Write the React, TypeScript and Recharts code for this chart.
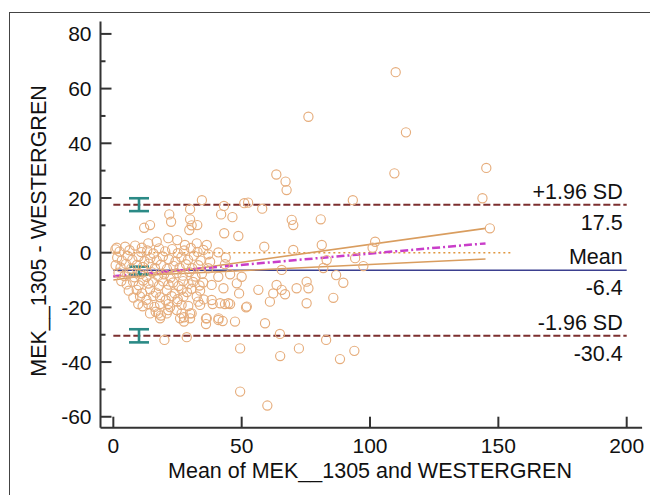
import React from 'react';
import { ComposedChart, Scatter, XAxis, YAxis, ReferenceLine, ErrorBar, Label } from 'recharts';

const FONT = '"Liberation Sans", Arial, Helvetica, sans-serif';

// axes
const xTicks = [0, 50, 100, 150, 200];
const yTicks = [-60, -50, -40, -30, -20, -10, 0, 10, 20, 30, 40, 50, 60, 70, 80];
const xDomain = [-5, 206];
const yDomain = [-64, 84.5];

// Bland-Altman results
const upperLimit = 17.5;
const meanDiff = -6.4;
const lowerLimit = -30.4;
const limitSpan = [0, 200];

// 95% CI bars drawn at x = 10
const ciBars = [
  { x: 10, y: upperLimit, err: [2.3, 2.4] },
  { x: 10, y: meanDiff, err: [1.5, 1.3] },
  { x: 10, y: lowerLimit, err: [2.4, 2.4] },
];

// regression of differences and its limits, line of equality
const regUpper = [[0, -10], [145, 8.9]];
const regLine = [[0, -8.6], [145, 3.4]];
const regLower = [[0, -8.8], [145, -2.3]];
const equality = [[0, 0], [155, 0]];

// (mean, difference) pairs
const points: [number, number][] = [
  // outliers and upper part
  [110.0, 66.0], [76.0, 49.7], [114.0, 44.0], [63.5, 28.6], [67.1, 26.0], [67.5, 22.9], [109.5, 29.0], [145.3, 31.0],
  [34.5, 19.2], [21.8, 14.0], [29.9, 15.9], [43.1, 17.1], [42.0, 14.0], [46.4, 13.0], [51.0, 18.1], [52.5, 18.3],
  [58.0, 16.1], [93.3, 19.2], [143.8, 19.9],
  [22.5, 11.3], [14.3, 10.1], [12.0, 9.1], [29.9, 12.2], [30.5, 10.0], [29.6, 8.3], [32.7, 10.1], [80.8, 12.2],
  [69.5, 12.0], [70.1, 10.1], [146.7, 8.9],
  [21.4, 5.3], [24.9, 4.6], [13.6, 3.4], [16.9, 4.0], [27.9, 2.8], [32.5, 3.4], [43.2, 7.1], [48.7, 6.1],
  [58.8, 2.2], [36.4, 2.8], [81.2, 2.8], [102.0, 4.0], [101.0, 1.8], [70.1, 1.0], [94.2, -2.0], [97.4, -4.9],
  [83.1, -2.7], [86.8, -8.2], [89.6, -11.0], [81.8, -5.6],
  // middle band 36-80
  [65.6, -6.3], [40.9, -8.8], [45.5, -7.9], [50.0, -8.8], [48.1, -11.2], [38.3, -11.8], [42.9, -13.0], [49.0, -14.9],
  [56.5, -13.6], [63.6, -11.8], [65.6, -13.6], [62.3, -14.9], [66.9, -15.2], [71.4, -13.0], [75.3, -10.6], [76.0, -13.0],
  [61.0, -17.9], [75.3, -18.5], [38.3, -17.3], [41.6, -18.5], [44.8, -18.5], [52.0, -19.7], [36.4, -24.0], [40.9, -24.6],
  [47.4, -25.2], [59.1, -25.8], [43.5, -4.2], [37.0, -5.7], [37.7, -3.3], [43.8, -1.8], [37.0, -0.6], [40.9, 0.1],
  [38.7, -18.8], [43.5, -18.8], [45.5, -18.8], [51.7, -20.0], [85.7, -16.5],
  [36.1, -26.1], [41.0, -24.0], [42.6, -25.0],
  // lower part
  [49.4, -35.0], [65.0, -37.8], [72.3, -35.0], [82.9, -31.9], [88.3, -38.9], [93.9, -35.9], [49.4, -50.8], [60.0, -55.9],
  [19.9, -31.9], [28.6, -30.9], [64.9, -29.7],
  // dense cluster, low means
  [0.8, 1.2], [2.4, 0.4], [4.6, 2.2], [6.3, 0.9], [8.5, 2.6], [10.9, 0.2], [11.1, 1.8], [13.2, 0.8], [15.6, -0.3],
  [17.8, 1.6], [20.2, 0.5], [22.9, 1.3], [25.1, -0.2], [27.6, 0.8], [30.2, 1.7], [32.8, 0.3], [35.1, 1.0], [1.3, 1.8],
  [1.5, -1.8], [3.3, -2.9], [5.6, -1.2], [7.4, -2.6], [9.8, -1.5], [12.1, -3.1], [14.4, -2.0], [16.9, -2.8],
  [19.3, -1.4], [21.6, -2.4], [24.2, -3.2], [26.5, -1.7], [29.1, -2.6], [31.4, -1.1], [34.0, -2.9],
  [0.9, -4.6], [2.8, -5.4], [4.9, -4.1], [7.0, -5.8], [9.2, -4.5], [11.5, -5.2], [13.8, -4.0], [16.2, -5.6],
  [18.5, -4.4], [20.9, -5.9], [23.4, -4.8], [25.8, -5.5], [28.3, -4.2], [30.7, -5.7], [33.1, -4.6],
  [2.0, -7.3], [4.3, -8.6], [6.1, -7.6], [8.2, -9.0], [10.6, -7.8], [12.9, -8.8], [15.1, -7.2], [17.4, -8.5],
  [19.8, -7.9], [22.3, -9.1], [24.7, -7.5], [27.0, -8.4], [29.6, -7.1], [32.0, -8.7], [34.5, -7.7],
  [3.1, -10.4], [5.2, -11.6], [7.7, -10.6], [9.9, -11.9], [11.6, -10.2], [13.7, -11.3], [15.5, -10.8], [17.8, -12.1],
  [19.4, -10.5], [21.5, -11.7], [23.3, -10.9], [25.4, -12.2], [27.2, -10.4], [29.3, -11.5], [31.1, -10.7], [33.6, -12.0],
  [35.0, -10.9],
  [6.0, -13.9], [9.1, -13.6], [11.2, -14.8], [14.3, -13.4], [16.6, -14.6], [20.8, -13.7], [23.9, -14.9], [26.6, -13.5],
  [28.7, -14.4], [30.5, -13.2], [33.8, -13.9],
  [7.8, -16.4], [10.4, -16.0], [12.9, -17.2], [15.6, -15.8], [18.2, -16.3], [20.4, -17.4], [22.7, -15.9], [25.1, -17.0],
  [27.3, -16.1], [32.5, -16.0], [35.2, -17.1],
  [9.7, -18.8], [11.4, -19.6], [13.6, -18.8], [16.0, -19.8], [18.2, -18.8], [21.4, -18.8], [22.1, -19.9], [24.9, -17.9],
  [26.6, -19.1], [29.2, -19.5], [33.1, -17.9], [33.8, -19.1],
  [14.3, -22.2], [16.5, -21.6], [17.5, -22.2], [18.5, -23.0], [20.8, -22.2], [21.4, -21.0], [24.7, -21.0], [26.6, -22.2],
  [29.9, -22.2], [30.5, -22.2], [27.5, -23.6], [27.5, -25.2], [18.2, -24.0], [26.0, -24.0], [29.9, -24.0], [36.1, -24.0],
];

const pointData = points.map(([x, y]) => ({ x, y }));
const seg = (pts: number[][]) => pts.map(([x, y]) => ({ x, y }));

const AXIS = '#333';
const TEXT = '#111';
const FS = 21;

const YTick = (props: any) => {
  const { x, y, payload } = props;
  const major = payload.value % 20 === 0;
  return (
    <g>
      <line x1={x} x2={x + (major ? 11 : 5)} y1={y} y2={y} stroke={AXIS} strokeWidth={2} />
      {major && (
        <text x={x - 9} y={y} dy="0.36em" textAnchor="end" fontSize={FS} fill={TEXT} fontFamily={FONT}>
          {payload.value}
        </text>
      )}
    </g>
  );
};

const XTick = (props: any) => {
  const { x, y, payload } = props;
  return (
    <g>
      <line x1={x} x2={x} y1={y} y2={y - 11} stroke={AXIS} strokeWidth={2} />
      <text x={x} y={y + 17.5} dy="0.36em" textAnchor="middle" fontSize={FS} fill={TEXT} fontFamily={FONT}>
        {payload.value}
      </text>
    </g>
  );
};

const Ring = (props: any) => (
  <circle cx={props.cx} cy={props.cy} r={4.6} fill="none" stroke="#e6ad7c" strokeWidth={1.15} />
);

const limitLabel = (top: string, bottom: string) => (props: any) => {
  const vb = props.viewBox;
  const right = vb.x + vb.width - 4;
  return (
    <g fontFamily={FONT} fontSize={21.5} fill={TEXT}>
      <text x={right} y={vb.y - 14} dy="0.36em" textAnchor="end">{top}</text>
      <text x={right} y={vb.y + 17} dy="0.36em" textAnchor="end">{bottom}</text>
    </g>
  );
};

export default function App() {
  return (
    <div style={{ position: 'absolute', left: 0, top: 0, width: 650, height: 495, overflow: 'hidden', background: '#fff', fontFamily: FONT }}>
      <div style={{ position: 'absolute', left: 9, top: 12, width: 700, height: 600, border: '1px solid #444' }} />
      <div style={{ position: 'absolute', left: 0, top: 0 }}>
        <ComposedChart width={650} height={495} margin={{ top: 21.6, right: 7.9, bottom: 27.3, left: 40.5 }}>
          <XAxis
            type="number"
            dataKey="x"
            domain={xDomain}
            allowDataOverflow
            ticks={xTicks}
            tick={<XTick />}
            tickLine={false}
            tickSize={0}
            tickMargin={0}
            height={40}
            axisLine={{ stroke: AXIS, strokeWidth: 2 }}
          >
            <Label
              content={() => (
                <text x={370} y={470.5} dy="0.36em" textAnchor="middle" fontSize={21.5} fill={TEXT} fontFamily={FONT}>
                  Mean of MEK__1305 and WESTERGREN
                </text>
              )}
            />
          </XAxis>
          <YAxis
            type="number"
            dataKey="y"
            domain={yDomain}
            allowDataOverflow
            ticks={yTicks}
            interval={0}
            tick={<YTick />}
            tickLine={false}
            tickSize={0}
            tickMargin={0}
            width={60}
            axisLine={{ stroke: AXIS, strokeWidth: 2 }}
          >
            <Label
              content={() => (
                <text
                  x={38}
                  y={231}
                  dy="0.36em"
                  textAnchor="middle"
                  fontSize={21.5}
                  fill={TEXT}
                  fontFamily={FONT}
                  transform="rotate(-90 38 231)"
                >
                  MEK__1305 - WESTERGREN
                </text>
              )}
            />
          </YAxis>

          <Scatter data={pointData} dataKey="y" shape={<Ring />} isAnimationActive={false} />

          <ReferenceLine
            segment={seg(equality)}
            stroke="#e0973f"
            strokeWidth={1.6}
            strokeDasharray="2 3"
          />
          <ReferenceLine
            segment={[{ x: limitSpan[0], y: meanDiff }, { x: limitSpan[1], y: meanDiff }]}
            stroke="#3b3f8f"
            strokeWidth={1.6}
            label={limitLabel('Mean', String(meanDiff))}
          />
          <ReferenceLine segment={seg(regUpper)} stroke="#d99d5f" strokeWidth={1.6} />
          <ReferenceLine segment={seg(regLower)} stroke="#d99d5f" strokeWidth={1.6} />
          <ReferenceLine
            segment={seg(regLine)}
            stroke="#c93ec9"
            strokeWidth={2.5}
            strokeDasharray="8 3 2 3"
          />
          <ReferenceLine
            segment={[{ x: limitSpan[0], y: upperLimit }, { x: limitSpan[1], y: upperLimit }]}
            stroke="#7c2f2f"
            strokeWidth={2}
            strokeDasharray="7 3"
            label={limitLabel('+1.96 SD', String(upperLimit))}
          />
          <ReferenceLine
            segment={[{ x: limitSpan[0], y: lowerLimit }, { x: limitSpan[1], y: lowerLimit }]}
            stroke="#7c2f2f"
            strokeWidth={2}
            strokeDasharray="7 3"
            label={limitLabel('-1.96 SD', String(lowerLimit))}
          />

          <Scatter data={ciBars} dataKey="y" shape={() => <g />} isAnimationActive={false}>
            <ErrorBar dataKey="err" direction="y" width={10} stroke="#2b8a86" strokeWidth={2.6} isAnimationActive={false} />
          </Scatter>
        </ComposedChart>
      </div>
    </div>
  );
}
